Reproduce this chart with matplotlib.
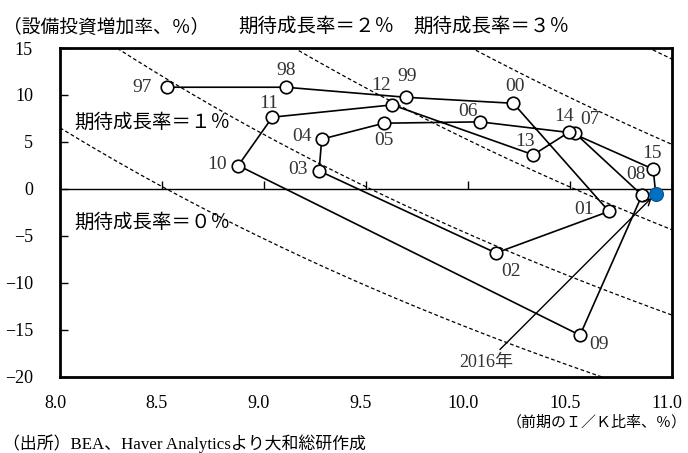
import matplotlib
matplotlib.use("Agg")
import matplotlib.pyplot as plt
import matplotlib.transforms as mtrans
import numpy as np

plt.rcParams['font.family'] = ['Liberation Serif', 'Noto Sans CJK JP', 'DejaVu Sans']

# ---- data ----
years = ["97", "98", "99", "00", "01", "02", "03", "04", "05", "06",
         "07", "08", "09", "10", "11", "12", "13", "14", "15", "16"]
ik_ratio = [8.523, 9.106, 9.696, 10.222, 10.691, 10.137, 9.270, 9.283, 9.588, 10.059,
            10.525, 10.853, 10.549, 8.874, 9.041, 9.629, 10.320, 10.497, 10.908, 10.920]
inv_growth = [10.82, 10.82, 9.75, 9.11, -2.41, -6.84, 1.91, 5.29, 6.99, 7.13,
              5.92, -0.68, -15.6, 2.48, 7.63, 8.94, 3.62, 6.06, 2.09, -0.53]
growth_rates = [0, 1, 2, 3, 4]      # 期待成長率 (%)
depreciation = 8.52                 # 償却率 (%)
xticks = [8.0, 8.5, 9.0, 9.5, 10.0, 10.5, 11.0]
yticks = [-20, -15, -10, -5, 0, 5, 10, 15]

# label offsets (pixels) for year labels
label_off = {"97": (-25, 0), "98": (1, 17), "99": (1, 21), "00": (2, 17),
             "01": (-25, 2), "02": (15, -19), "03": (-21, 1), "04": (-20, 3),
             "05": (0, -17), "06": (-12, 10), "07": (15, 14), "08": (-6, 21),
             "09": (19, -9), "10": (-21, 1), "11": (-4, 14), "12": (-11, 19),
             "13": (-8, 13), "14": (-5, 15), "15": (-1, 16)}

fig = plt.figure(figsize=(6.88, 4.53), dpi=100)
ax = fig.add_axes([60/688, 1-376.5/453, (672-60)/688, (376.5-48)/453])
ax.set_xlim(8, 11)
ax.set_ylim(-20, 15)

# expected-growth reference curves
xs = np.linspace(8, 11, 300)
for g in growth_rates:
    ax.plot(xs, 100*((g + depreciation)/xs - 1), color='black', lw=0.9,
            ls=(0, (3, 2)), zorder=1)

# path
ax.plot(ik_ratio, inv_growth, color='black', lw=1.2, zorder=2)
ax.plot(ik_ratio[:-1], inv_growth[:-1], 'o', ms=9, mfc='white', mec='black',
        mew=1.2, zorder=3)
ax.plot(ik_ratio[-1:], inv_growth[-1:], 'o', ms=10, mfc='#0070C0', mec='#0a4f8a',
        mew=0.8, zorder=4)

for yr, x, y in zip(years[:-1], ik_ratio[:-1], inv_growth[:-1]):
    dx, dy = label_off[yr]
    ax.annotate(yr, (x, y), xytext=(dx, dy), textcoords='offset pixels',
                ha='center', va='center', fontsize=14, color='#333333', zorder=5)

ax.annotate("2016年", (ik_ratio[-1], inv_growth[-1]), xytext=(-169, -169),
            textcoords='offset pixels', ha='center', va='center', fontsize=13,
            color='#333333',
            arrowprops=dict(arrowstyle='->', color='black', lw=1.0,
                            shrinkA=2, shrinkB=4, mutation_scale=12))

ax.text(8.45, 7.0, "期待成長率＝１％", ha='center', va='center', fontsize=14, zorder=5)
ax.text(8.45, -3.6, "期待成長率＝０％", ha='center', va='center', fontsize=14, zorder=5)

# axes styling
for s in ['top', 'left', 'right']:
    ax.spines[s].set_linewidth(2)
ax.spines['bottom'].set_position(('data', 0))
ax.spines['bottom'].set_linewidth(1)
ax.set_xticks(xticks)
ax.tick_params(axis='x', direction='in', length=6, width=1, labelbottom=False)
ax.set_yticks(yticks)
ax.set_yticklabels([str(v).replace('-', '\u2212') for v in yticks])
ax.tick_params(axis='y', direction='in', length=6, width=1, labelsize=13, pad=19.5)

sec = ax.secondary_xaxis(0)
sec.set_xticks(xticks)
sec.set_xticklabels([f"{v:.1f}" for v in xticks])
sec.tick_params(length=0, labelsize=13, pad=13)
sec.spines['bottom'].set_linewidth(2)
shift = mtrans.ScaledTranslation(-5/100, 0, fig.dpi_scale_trans)
for lab in sec.get_xticklabels():
    lab.set_transform(lab.get_transform() + shift)

fig.text(3/688, 1-28/453, "（設備投資増加率、％）", ha='left', va='center', fontsize=13.5)
fig.text(238/688, 1-27/453, "期待成長率＝２％", ha='left', va='center', fontsize=14)
fig.text(413/688, 1-27/453, "期待成長率＝３％", ha='left', va='center', fontsize=14)
fig.text(687/688, 1-422/453, "（前期のＩ／Ｋ比率、％）", ha='right', va='center', fontsize=10.8)
fig.text(3/688, 1-444/453, "（出所）BEA、Haver Analyticsより大和総研作成", ha='left',
         va='center', fontsize=12.2)

fig.savefig("out.png", dpi=100)
